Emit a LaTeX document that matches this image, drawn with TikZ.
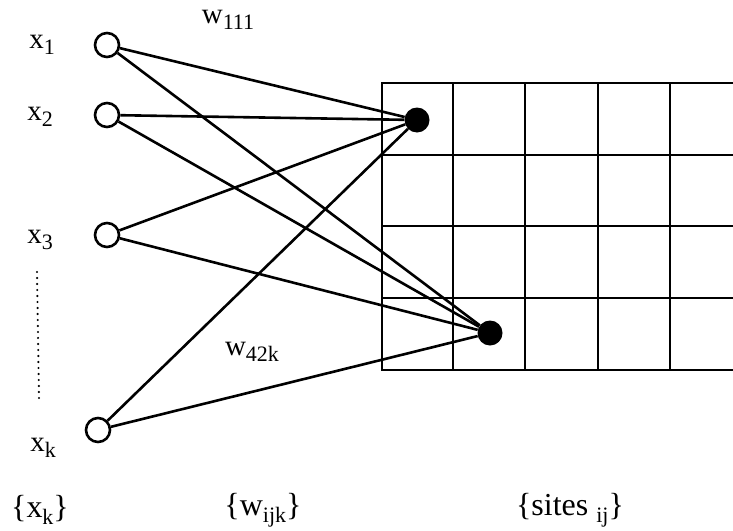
\documentclass[tikz,border=0pt]{standalone}
\usepackage{fontspec}
\setmainfont{Liberation Serif}
\newcommand\mysb[1]{\raisebox{-0.5ex}{\fontsize{22}{24}\selectfont #1}}
\begin{document}
\begin{tikzpicture}[x=1pt,y=-1pt,
  inp/.style={circle,draw,line width=2.6pt,minimum size=24pt,inner sep=0pt,fill=white},
  site/.style={circle,fill=black,minimum size=25pt,inner sep=0pt},
  lbl/.style={font=\fontsize{29}{32}\selectfont,inner sep=0pt},
  blbl/.style={font=\fontsize{32}{36}\selectfont,inner sep=0pt},
  conn/.style={line width=2.6pt},
  gridl/.style={line width=2.4pt}]
\useasboundingbox (0,0) rectangle (733,530);
% grid
\foreach \yy in {83,155,226,298,370} \draw[gridl] (381,\yy) -- (733,\yy);
\foreach \xx in {382,453,525,598,670} \draw[gridl] (\xx,83) -- (\xx,370);
% nodes
\node[inp] (x1) at (107,45) {};
\node[inp] (x2) at (107,115) {};
\node[inp] (x3) at (107,235) {};
\node[inp] (xk) at (98,430) {};
\node[site] (s1) at (417,120) {};
\node[site] (s2) at (490,333) {};
% connectors
\foreach \n in {x1,x2,x3,xk} {
  \draw[conn] (\n) -- (s1);
  \draw[conn] (\n) -- (s2);
}
% labels
\node[lbl] (l1) at (42,45) {x\mysb{1}};
\node[lbl] (l2) at (40,117) {x\mysb{2}};
\node[lbl] (l3) at (40,240) {x\mysb{3}};
\node[lbl] (lk) at (43,448) {x\mysb{k}};
\coordinate (d1) at (37,272);
\coordinate (d2) at (39,398);
\draw[line width=2.4pt,line cap=round,dash pattern=on 0pt off 6pt] (d1) -- (d2);
\node[lbl] (w1) at (228,20) {w\mysb{111}};
\node[lbl] (w2) at (252,352) {w\mysb{42k}};
\node[blbl] (bx) at (40,510) {\{x\mysb{k}\}};
\node[blbl] (bw) at (263,510) {\{w\mysb{ijk}\}};
\node[blbl] (bs) at (570,510) {\{sites \mysb{ij}\}};
\end{tikzpicture}
\end{document}
